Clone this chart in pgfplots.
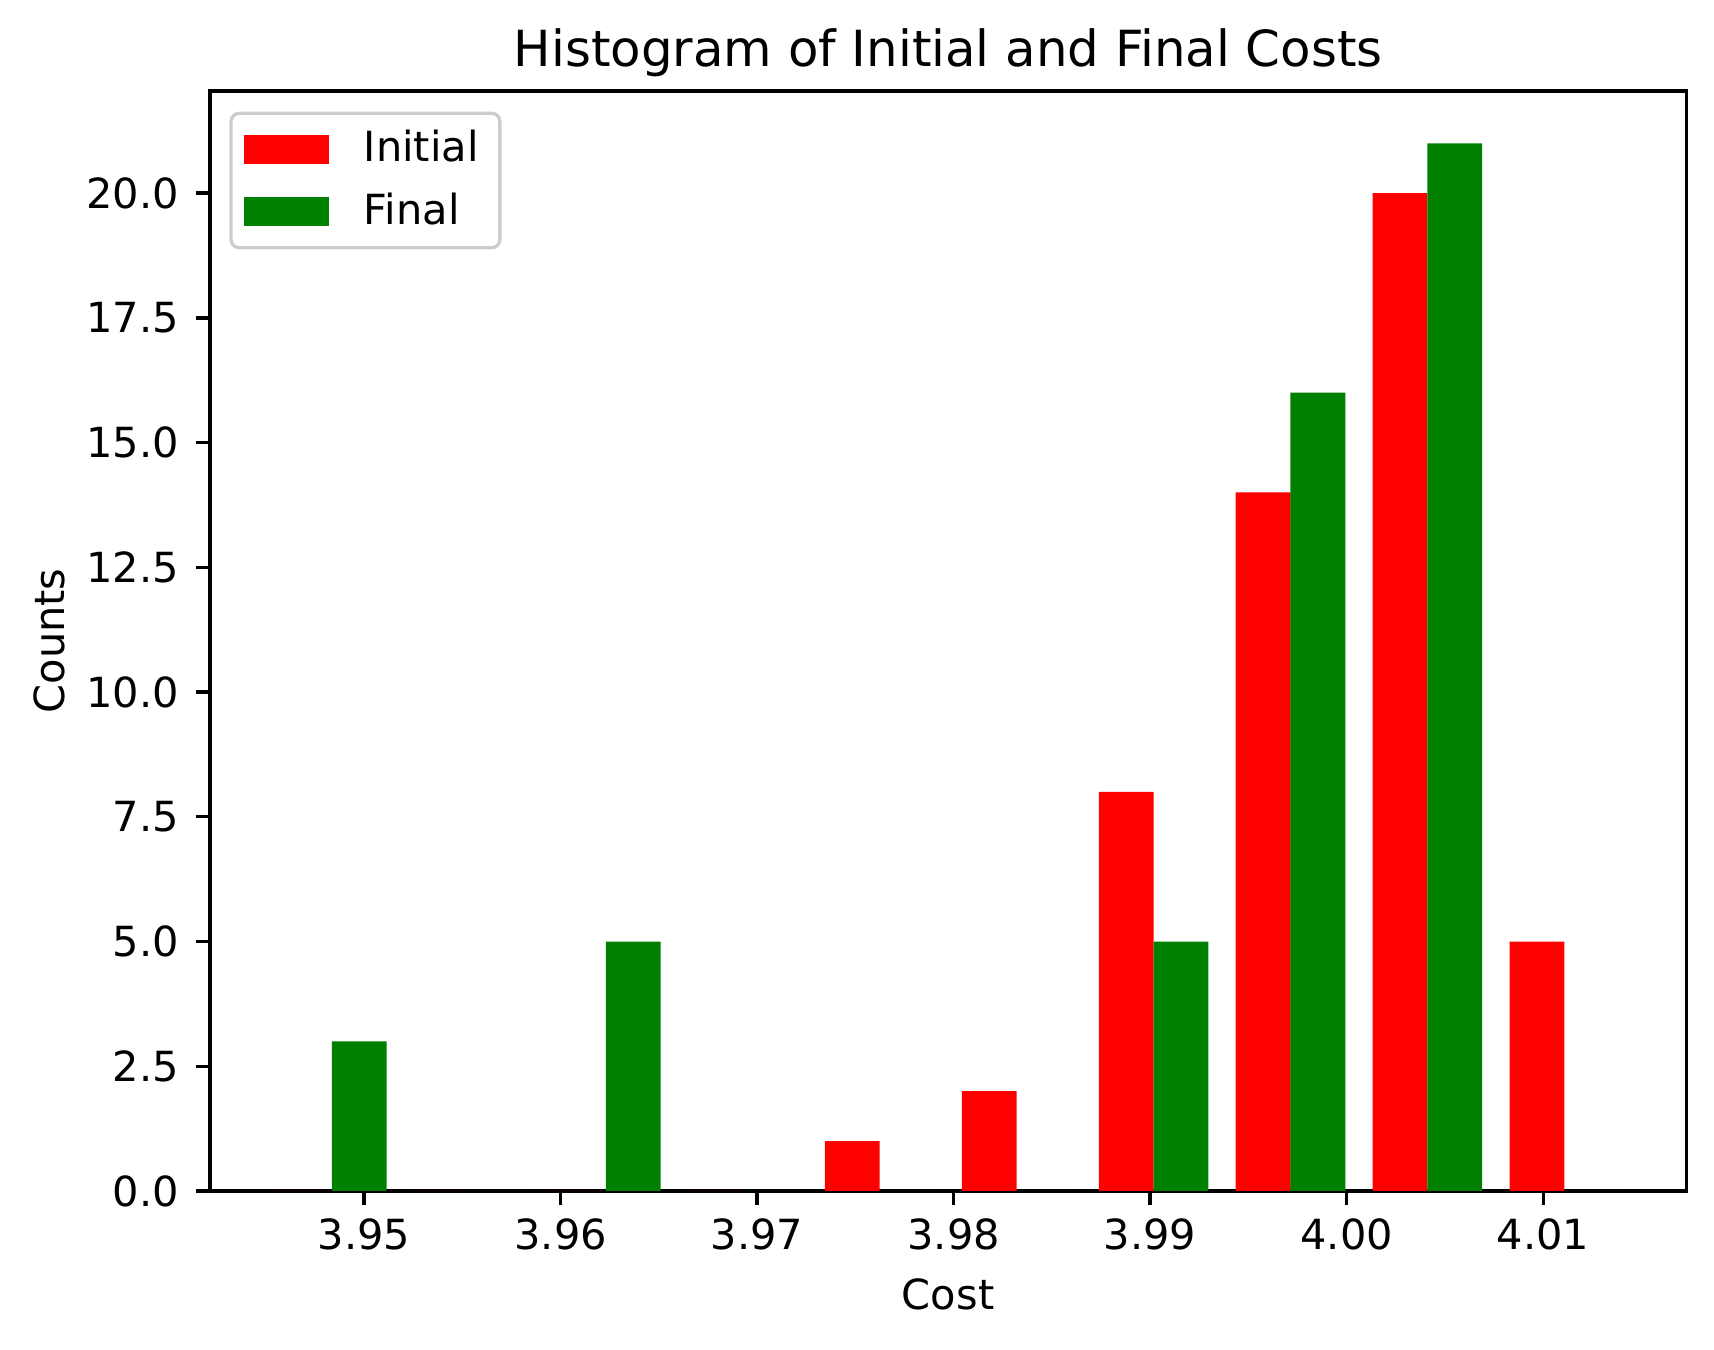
\documentclass[border=0pt]{standalone}
\usepackage{fontspec}
\setmainfont{DejaVu Sans}
\usepackage{pgfplots}
\pgfplotsset{compat=1.18}
\definecolor{mplgreen}{RGB}{0,128,0}
\definecolor{legframe}{gray}{0.8}

\begin{document}
\begin{tikzpicture}
\begin{axis}[
  scale only axis,
  width=355.6pt, height=265.0pt,
  xmin=3.94216, xmax=4.01728,
  ymin=0, ymax=22.05,
  axis line style={line width=0.8pt},
  tick style={line width=0.8pt, black},
  major tick length=3.5pt,
  tick align=outside,
  xtick pos=bottom, ytick pos=left,
  xtick={3.95,3.96,3.97,3.98,3.99,4.00,4.01},
  xticklabels={3.95,3.96,3.97,3.98,3.99,4.00,4.01},
  ytick={0,2.5,5,7.5,10,12.5,15,17.5,20},
  yticklabels={0.0,2.5,5.0,7.5,10.0,12.5,15.0,17.5,20.0},
  /pgf/number format/assume math mode=true,
  tick label style={font=\fontsize{10}{12}\selectfont},
  xticklabel style={anchor=base, yshift=-10.6pt},
  yticklabel style={anchor=east, xshift=-3.8pt, inner sep=0pt},
  every axis title shift=0pt,
  title={Histogram of Initial and Final Costs},
  title style={at={(axis description cs:0.5,1)}, anchor=base, yshift=5.9pt, font=\fontsize{12}{14}\selectfont},
  xlabel={Cost},
  xlabel style={at={(axis description cs:0.5,0)}, anchor=base, yshift=-28.6pt, font=\fontsize{10}{12}\selectfont},
  ylabel={Counts},
  ylabel style={at={(axis description cs:-0.1091,0.5)}, anchor=center, font=\fontsize{10}{12}\selectfont},
  legend style={at={(axis description cs:0,1)}, anchor=north west, xshift=4.65pt, yshift=-5pt,
    draw=legframe, line width=0.8pt, rounded corners=2pt, fill=white,
    font=\fontsize{10}{12}\selectfont, inner xsep=3.1pt, inner ysep=2.1pt, row sep=2pt,
    /tikz/every odd column/.append style={column sep=6.4pt}},
  legend cell align=left,
  legend image code/.code={\fill[#1, sharp corners] (0pt,-3.5pt) rectangle (20.5pt,3.5pt);},
]
\addplot[ybar, bar width=0.0027874, bar shift=0pt, fill=red, draw=none] coordinates {
(3.946969,0) (3.953938,0) (3.960906,0) (3.967875,0) (3.974843,1)
(3.981812,2) (3.988780,8) (3.995749,14) (4.002717,20) (4.009686,5)};
\addlegendentry{Initial}
\addplot[ybar, bar width=0.0027874, bar shift=0pt, fill=mplgreen, draw=none] coordinates {
(3.949756,3) (3.956725,0) (3.963693,5) (3.970662,0) (3.977630,0)
(3.984599,0) (3.991567,5) (3.998536,16) (4.005504,21) (4.012473,0)};
\addlegendentry{Final}
\end{axis}
\pgfresetboundingbox
\path ([shift={(-50.6pt,-38.3pt)}]current axis.south west) rectangle ([shift={(6.7pt,21.9pt)}]current axis.north east);
\end{tikzpicture}
\end{document}
